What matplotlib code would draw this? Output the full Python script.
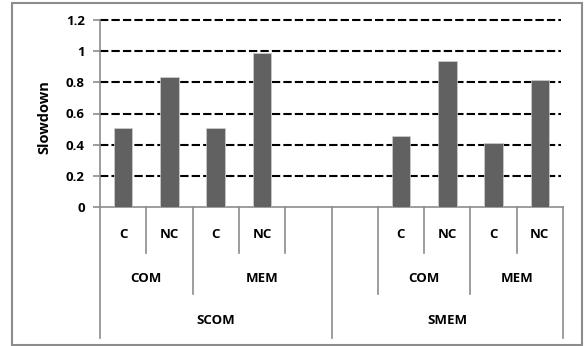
import matplotlib.pyplot as plt
from matplotlib import transforms

# values
groups = ["SCOM", "SMEM"]
subgroups = ["COM", "MEM"]
kinds = ["C", "NC"]
scom_values = [0.51, 0.835, 0.51, 0.99]
smem_values = [0.455, 0.935, 0.41, 0.815]
y_ticks = [0, 0.2, 0.4, 0.6, 0.8, 1, 1.2]
y_tick_labels = ["0", "0.2", "0.4", "0.6", "0.8", "1", "1.2"]

plt.rcParams['font.family'] = ['Open Sans', 'DejaVu Sans']
plt.rcParams['font.weight'] = 'bold'

W, H = 585, 346
fig = plt.figure(figsize=(W / 100, H / 100), dpi=100)
ax = fig.add_axes([100 / W, 1 - 207 / H, 463 / W, 187 / H])

gray = '#8c8c8c'
bar_color = '#616161'
fs = 9.5

# 10 category slots: SCOM has an empty slot at the end, SMEM at the start
scom_pos = [0, 1, 2, 3]
smem_pos = [6, 7, 8, 9]
ax.bar(scom_pos, scom_values, width=0.4, color=bar_color, edgecolor='#d0d0d0', linewidth=0.5, zorder=3)
ax.bar(smem_pos, smem_values, width=0.4, color=bar_color, edgecolor='#d0d0d0', linewidth=0.5, zorder=3)

ax.set_xlim(-0.5, 9.5)
ax.set_ylim(0, 1.2)
ax.set_yticks(y_ticks)
ax.set_yticklabels(y_tick_labels, fontsize=fs, fontweight='bold')
ax.set_xticks([])
for y in y_ticks[1:]:
    ax.axhline(y, color='black', lw=1.5, ls=(0, (4, 1.5)), zorder=1, xmax=0.995, clip_on=False)

for s in ['top', 'right']:
    ax.spines[s].set_visible(False)
for s in ['left', 'bottom']:
    ax.spines[s].set_color(gray)
    ax.spines[s].set_linewidth(1.2)
ax.tick_params(axis='y', length=5, width=1.2, color=gray, pad=6)
ax.set_ylabel("Slowdown", fontsize=10.5, fontweight='bold')
ax.yaxis.set_label_coords(-0.105, 0.48)

# multi-level category axis
tr = transforms.blended_transform_factory(ax.transData, fig.transFigure)
def fy(p):
    return 1 - p / H

y0, y1, y2, y3 = 207, 253, 294, 338
level = {-0.5: y3, 0.5: y1, 1.5: y2, 2.5: y1, 3.5: y1, 4.5: y3,
         5.5: y2, 6.5: y1, 7.5: y2, 8.5: y1, 9.5: y3}
for x, yb in level.items():
    ax.plot([x, x], [fy(y0), fy(yb)], color=gray, lw=1.2, transform=tr, clip_on=False)

for i, x in enumerate(scom_pos + smem_pos):
    ax.text(x, fy(234), kinds[i % 2], transform=tr, ha='center', va='center', fontsize=fs, fontweight='bold')
sub_centers = [0.5, 3.0, 6.5, 8.5]
for i, x in enumerate(sub_centers):
    ax.text(x, fy(278), subgroups[i % 2], transform=tr, ha='center', va='center', fontsize=fs, fontweight='bold')
for x, g in zip([2, 7], groups):
    ax.text(x, fy(321), g, transform=tr, ha='center', va='center', fontsize=fs, fontweight='bold')

# outer chart border
fig.patches.append(plt.Rectangle((12 / W, 1 - 345 / H), 570 / W, 342 / H, transform=fig.transFigure,
                                 fill=False, edgecolor=gray, lw=1.5))

fig.savefig("out.png", dpi=100)
